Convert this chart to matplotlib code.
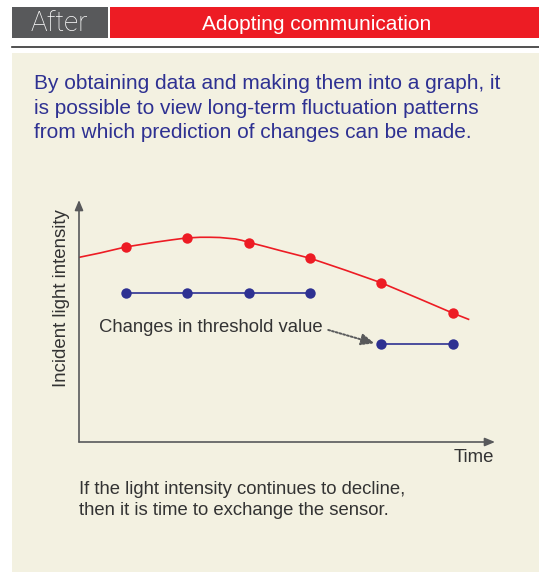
import matplotlib
matplotlib.use("Agg")
import matplotlib.pyplot as plt
from matplotlib.patches import Rectangle

plt.rcParams['font.family'] = ['Liberation Sans', 'DejaVu Sans']

# data (arbitrary units: time 0..6.76, intensity 0..100)
curve_t = [0.0, 0.34, 0.76, 1.25, 1.50, 1.74, 1.97, 2.13, 2.29, 2.54, 2.65,
           2.76, 3.02, 3.27, 3.76, 4.33, 4.91, 5.50, 6.08, 6.33]
curve_v = [76.3, 78.1, 80.6, 82.6, 83.5, 84.3, 84.6, 84.6, 84.5, 83.9, 83.3,
           82.5, 80.8, 79.1, 75.9, 71.0, 65.8, 59.5, 53.2, 50.7]
meas_t = [0.76, 1.75, 2.76, 3.76, 4.91, 6.08]
meas_v = [80.6, 84.3, 82.4, 75.9, 65.8, 53.2]
thr1_t = [0.76, 1.75, 2.76, 3.76]
thr1_v = [61.6, 61.6, 61.6, 61.6]
thr2_t = [4.91, 6.08]
thr2_v = [40.5, 40.5]

intro = ("By obtaining data and making them into a graph, it\n"
         "is possible to view long-term fluctuation patterns\n"
         "from which prediction of changes can be made.")
outro = ("If the light intensity continues to decline,\n"
         "then it is time to exchange the sensor.")

RED = '#ed1c24'
BLUE = '#2e3192'
GRAY = '#58595b'
BEIGE = '#f3f1e1'
W, H = 539, 572

fig = plt.figure(figsize=(W / 100, H / 100), dpi=100)

# page layout in pixel coords
bg = fig.add_axes([0, 0, 1, 1], zorder=0)
bg.set_xlim(0, W)
bg.set_ylim(H, 0)
bg.axis('off')
bg.add_patch(Rectangle((12, 7), 96, 31, color=GRAY, lw=0))
bg.add_patch(Rectangle((110, 7), 440, 31, color=RED, lw=0))
bg.plot([12, W], [47, 47], color='#333333', lw=1.2)
bg.add_patch(Rectangle((12, 53), 540, 520, color=BEIGE, lw=0))
bg.text(59, 31, 'After', color='white', fontsize=20, fontweight='light',
        family=['Roboto', 'DejaVu Sans'], ha='center', va='baseline')
bg.text(317, 30, 'Adopting communication', color='white', fontsize=15,
        ha='center', va='baseline')
bg.text(34, 108, intro, color=BLUE, fontsize=15, ha='left', va='center',
        linespacing=1.35)
bg.text(79, 500, outro, color='#333333', fontsize=13.3, ha='left', va='center',
        linespacing=1.3)

# chart
x0, x1, y0, y1 = 79, 495, 442, 200
ax = fig.add_axes([x0 / W, 1 - y0 / H, (x1 - x0) / W, (y0 - y1) / H], zorder=1)
ax.patch.set_alpha(0)
ax.set_xlim(0, 6.76)
ax.set_ylim(0, 100)
for s in ax.spines.values():
    s.set_visible(False)
ax.set_xticks([])
ax.set_yticks([])

ax.annotate('', xy=(1, 0), xytext=(0, 0), xycoords='axes fraction',
            arrowprops=dict(arrowstyle='-|>,head_length=0.6,head_width=0.25',
                            color=GRAY, lw=1.2, shrinkA=0, shrinkB=0))
ax.annotate('', xy=(0, 1), xytext=(0, 0), xycoords='axes fraction',
            arrowprops=dict(arrowstyle='-|>,head_length=0.6,head_width=0.25',
                            color=GRAY, lw=1.2, shrinkA=0, shrinkB=0))

ax.plot(curve_t, curve_v, color=RED, lw=1.2, solid_joinstyle='round')
ax.plot(meas_t, meas_v, 'o', color=RED, ms=7.5, mec='none')
ax.plot(thr1_t, thr1_v, '-o', color=BLUE, lw=1.2, ms=7.5, mec='none')
ax.plot(thr2_t, thr2_v, '-o', color=BLUE, lw=1.2, ms=7.5, mec='none')

ax.text(0.33, 47.5, 'Changes in threshold value', color='#333333',
        fontsize=13.35, ha='left', va='center')
ax.annotate('', xy=(4.8, 40.8), xytext=(4.05, 46.3),
            arrowprops=dict(arrowstyle='-|>,head_length=0.8,head_width=0.35',
                            color=GRAY, lw=1.4, linestyle=(0, (1, 1)),
                            shrinkA=0, shrinkB=0))

fig.text(494 / W, 1 - 458 / H, 'Time', color='#333333', fontsize=13.4,
         ha='right', va='center')
fig.text(62 / W, 1 - 298 / H, 'Incident light intensity', color='#333333',
         fontsize=13.4, rotation=90, ha='center', va='center')

fig.savefig('out.png', dpi=100)
